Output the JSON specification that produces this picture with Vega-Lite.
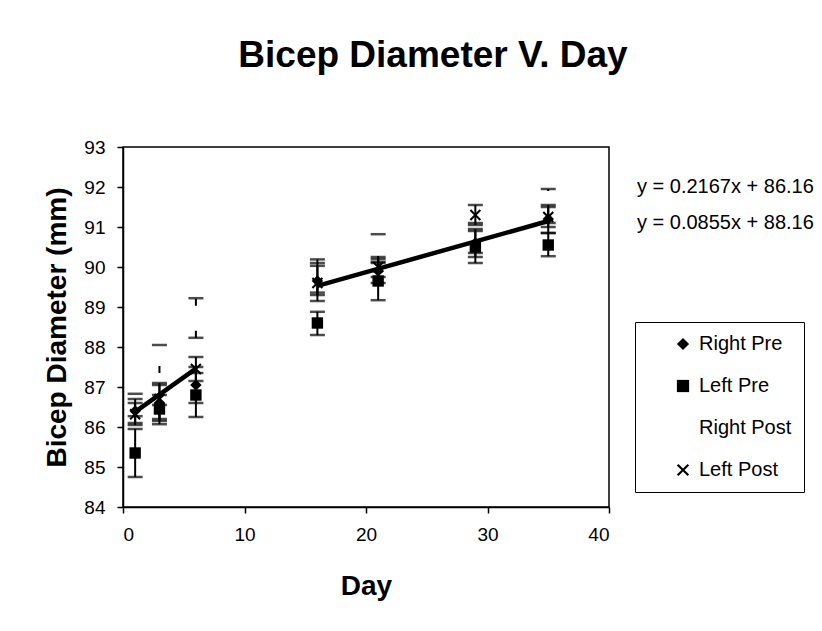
{
  "$schema": "https://vega.github.io/schema/vega-lite/v6.json",
  "autosize": "none",
  "width": 486,
  "height": 360,
  "padding": {"left": 123, "top": 147, "right": 213, "bottom": 124},
  "background": "white",
  "config": {
    "font": "Liberation Sans",
    "view": {"stroke": "black", "strokeWidth": 1.5},
    "axis": {"grid": false, "domainColor": "black", "tickColor": "black", "labelColor": "black", "titleColor": "black", "labelFont": "Liberation Sans", "titleFont": "Liberation Sans", "labelFontSize": 19, "titleFontSize": 28, "titleFontWeight": "bold", "tickSize": 6, "domainWidth": 1.5, "tickWidth": 1.5, "labelOverlap": false},
    "axisY": {"tickCount": 10}
  },
  "title": {"text": "Bicep Diameter V. Day", "fontSize": 37, "fontWeight": "bold", "color": "black", "font": "Liberation Sans", "anchor": "middle", "dx": 67, "offset": 63},
  "datasets": {
    "eb": [
      {"day": 1, "series": "Right Pre", "mean": 86.4, "lo": 86.1, "hi": 86.7},
      {"day": 1, "series": "Left Pre", "mean": 85.35, "lo": 84.75, "hi": 85.95},
      {"day": 1, "series": "Right Post", "mean": 86.55, "lo": 86.27, "hi": 86.83},
      {"day": 1, "series": "Left Post", "mean": 86.32, "lo": 86.05, "hi": 86.6},
      {"day": 3, "series": "Right Pre", "mean": 86.6, "lo": 86.15, "hi": 87.05},
      {"day": 3, "series": "Left Pre", "mean": 86.45, "lo": 86.07, "hi": 86.8},
      {"day": 3, "series": "Right Post", "mean": 87.3, "lo": 86.55, "hi": 88.05},
      {"day": 3, "series": "Left Post", "mean": 86.7, "lo": 86.2, "hi": 87.1},
      {"day": 6, "series": "Right Pre", "mean": 87.05, "lo": 86.6, "hi": 87.5},
      {"day": 6, "series": "Left Pre", "mean": 86.8, "lo": 86.25, "hi": 87.35},
      {"day": 6, "series": "Right Post", "mean": 88.72, "lo": 88.23, "hi": 89.22},
      {"day": 6, "series": "Left Post", "mean": 87.45, "lo": 87.15, "hi": 87.75},
      {"day": 16, "series": "Right Pre", "mean": 89.65, "lo": 89.15, "hi": 90.19},
      {"day": 16, "series": "Left Pre", "mean": 88.6, "lo": 88.3, "hi": 88.88},
      {"day": 16, "series": "Right Post", "mean": 89.7, "lo": 89.3, "hi": 90.1},
      {"day": 16, "series": "Left Post", "mean": 89.6, "lo": 89.36, "hi": 90.03},
      {"day": 21, "series": "Right Pre", "mean": 89.9, "lo": 89.6, "hi": 90.2},
      {"day": 21, "series": "Left Pre", "mean": 89.65, "lo": 89.17, "hi": 90.13},
      {"day": 21, "series": "Right Post", "mean": 90.45, "lo": 90.1, "hi": 90.82},
      {"day": 21, "series": "Left Post", "mean": 90.0, "lo": 89.75, "hi": 90.25},
      {"day": 29, "series": "Right Pre", "mean": 90.6, "lo": 90.25, "hi": 90.95},
      {"day": 29, "series": "Left Pre", "mean": 90.5, "lo": 90.1, "hi": 90.9},
      {"day": 29, "series": "Right Post", "mean": 90.75, "lo": 90.35, "hi": 91.1},
      {"day": 29, "series": "Left Post", "mean": 91.3, "lo": 91.05, "hi": 91.55},
      {"day": 35, "series": "Right Pre", "mean": 91.2, "lo": 90.85, "hi": 91.55},
      {"day": 35, "series": "Left Pre", "mean": 90.55, "lo": 90.27, "hi": 90.85},
      {"day": 35, "series": "Right Post", "mean": 91.5, "lo": 91.1, "hi": 91.95},
      {"day": 35, "series": "Left Post", "mean": 91.25, "lo": 91.0, "hi": 91.5}
    ],
    "trend": [
      {"day": 1, "fit": 86.38, "eq": "y = 0.2167x + 86.16"},
      {"day": 6, "fit": 87.46, "eq": "y = 0.2167x + 86.16"},
      {"day": 16, "fit": 89.53, "eq": "y = 0.0855x + 88.16"},
      {"day": 35, "fit": 91.15, "eq": "y = 0.0855x + 88.16"}
    ]
  },
  "encoding": {
    "x": {"field": "day", "type": "quantitative", "title": "Day", "scale": {"domain": [0, 40], "nice": false}, "axis": {"values": [0, 10, 20, 30, 40], "labelPadding": 12, "titlePadding": 28}}
  },
  "layer": [
    {
      "data": {"name": "eb"},
      "transform": [{"filter": "datum.series !== 'Right Post'"}],
      "mark": {"type": "rule", "color": "black", "strokeWidth": 2},
      "encoding": {
        "y": {"field": "lo", "type": "quantitative", "title": "Bicep Diameter (mm)", "scale": {"domain": [84, 93], "nice": false}, "axis": {"values": [84, 85, 86, 87, 88, 89, 90, 91, 92, 93], "tickCount": 10, "labelPadding": 12, "titlePadding": 12}},
        "y2": {"field": "hi"}
      }
    },
    {
      "data": {"name": "eb"},
      "transform": [{"filter": "datum.series === 'Right Post'"}],
      "mark": {"type": "rule", "color": "black", "strokeWidth": 2, "strokeDash": [7, 25]},
      "encoding": {
        "y": {"field": "lo", "type": "quantitative"},
        "y2": {"field": "hi"}
      }
    },
    {
      "data": {"name": "eb"},
      "mark": {"type": "tick", "orient": "horizontal", "color": "black", "size": 15, "thickness": 2.5},
      "encoding": {"y": {"field": "lo", "type": "quantitative"}}
    },
    {
      "data": {"name": "eb"},
      "mark": {"type": "tick", "orient": "horizontal", "color": "black", "size": 15, "thickness": 2.5},
      "encoding": {"y": {"field": "hi", "type": "quantitative"}}
    },
    {
      "data": {"name": "trend"},
      "mark": {"type": "line", "strokeWidth": 4.5},
      "encoding": {
        "y": {"field": "fit", "type": "quantitative"},
        "color": {"field": "eq", "type": "nominal", "sort": null, "scale": {"domain": ["y = 0.2167x + 86.16", "y = 0.0855x + 88.16"], "range": ["black", "black"]},
          "legend": {"title": null, "orient": "none", "legendX": 494, "legendY": 30, "symbolOpacity": 0, "symbolSize": 0, "symbolStrokeWidth": 0, "labelOffset": 0, "padding": 0, "labelFontSize": 20, "labelColor": "black", "labelFont": "Liberation Sans", "rowPadding": 16, "labelLimit": 300}}
      }
    },
    {
      "data": {"name": "eb"},
      "mark": {"type": "point", "filled": true, "fill": "black", "size": 130, "opacity": 1},
      "encoding": {
        "y": {"field": "mean", "type": "quantitative"},
        "shape": {"field": "series", "type": "nominal", "sort": null,
          "scale": {"domain": ["Right Pre", "Left Pre", "Right Post", "Left Post"], "range": ["diamond", "square", "M0,0", "M-1,-0.75L-0.75,-1L0,-0.25L0.75,-1L1,-0.75L0.25,0L1,0.75L0.75,1L0,0.25L-0.75,1L-1,0.75L-0.25,0Z"]},
          "legend": {"title": null, "orient": "none", "legendX": 512, "legendY": 175, "strokeColor": "black", "fillColor": "white", "padding": 12, "symbolOffset": 26, "labelFontSize": 20, "labelColor": "black", "labelFont": "Liberation Sans", "rowPadding": 22, "labelOffset": 6, "symbolSize": 150, "symbolFillColor": "black", "symbolStrokeColor": "black", "symbolStrokeWidth": 0, "labelLimit": 300}}
      }
    }
  ]
}
